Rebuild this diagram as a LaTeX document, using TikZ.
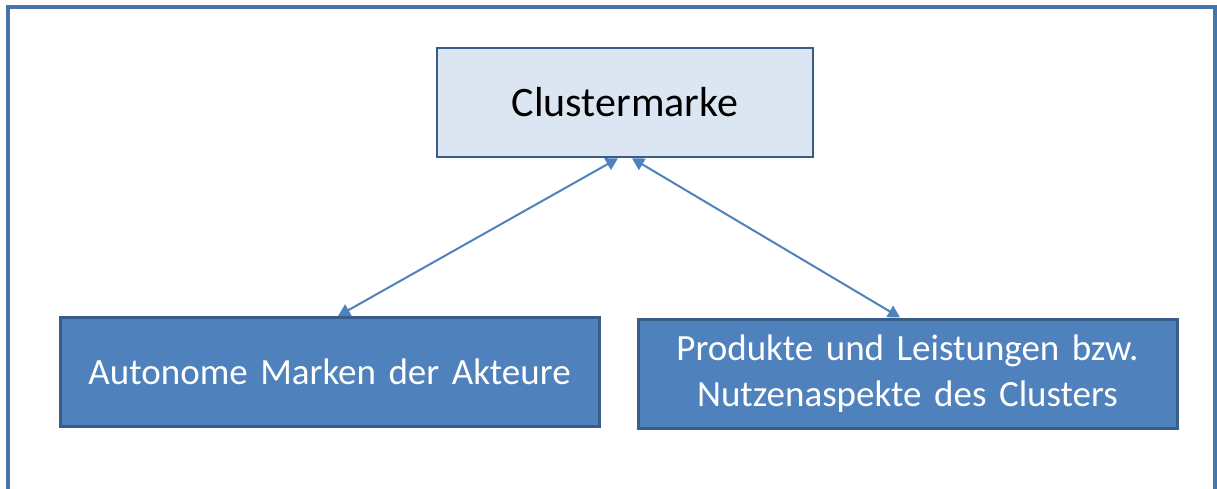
\documentclass[tikz,border=0pt]{standalone}
\usepackage{fontspec}
\setmainfont[WordSpace={1.5}]{Carlito}
\usepackage{xcolor}
\usetikzlibrary{arrows.meta,positioning,calc}

\definecolor{brandblue}{HTML}{4F81BD}
\definecolor{brandline}{HTML}{385D8A}
\definecolor{brandlight}{HTML}{DCE6F2}

\begin{document}
\begin{tikzpicture}[x=1pt, y=-1pt,
    topbox/.style={draw=brandline, line width=2.5pt, fill=brandlight, minimum width=376pt, minimum height=109pt, inner sep=0pt, font=\fontsize{42}{50}\selectfont},
    subbox/.style={draw=brandline, line width=3pt, fill=brandblue, text=white, minimum width=539pt, minimum height=109pt, inner sep=0pt, align=center, font=\fontsize{37}{46}\selectfont},
    link/.style={draw=brandblue, line width=2pt, {Triangle[length=12pt,width=13pt]}-{Triangle[length=12pt,width=13pt]}}]
    \useasboundingbox (0,0) rectangle (1217,489);

    % outer frame (open at the bottom)
    \draw[brandblue!90!black, line width=4pt] (7.5,489) -- (7.5,7.5) -- (1214.5,7.5) -- (1214.5,489);

    % boxes
    \node[topbox] (cluster) at (625,102.5) {Clustermarke};
    \node[subbox] (own) at (329.5,372) {Autonome Marken der Akteure};
    \node[subbox] (benefit) at (907.5,373.5) {Produkte und Leistungen bzw.\\Nutzenaspekte des Clusters};

    % links
    \draw[link] ($(own.north)+(8.5,0)$) -- ($(cluster.south)+(-7,0)$);
    \draw[link] ($(cluster.south)+(7,0)$) -- ($(benefit.north)+(-7.5,0)$);
\end{tikzpicture}
\end{document}
